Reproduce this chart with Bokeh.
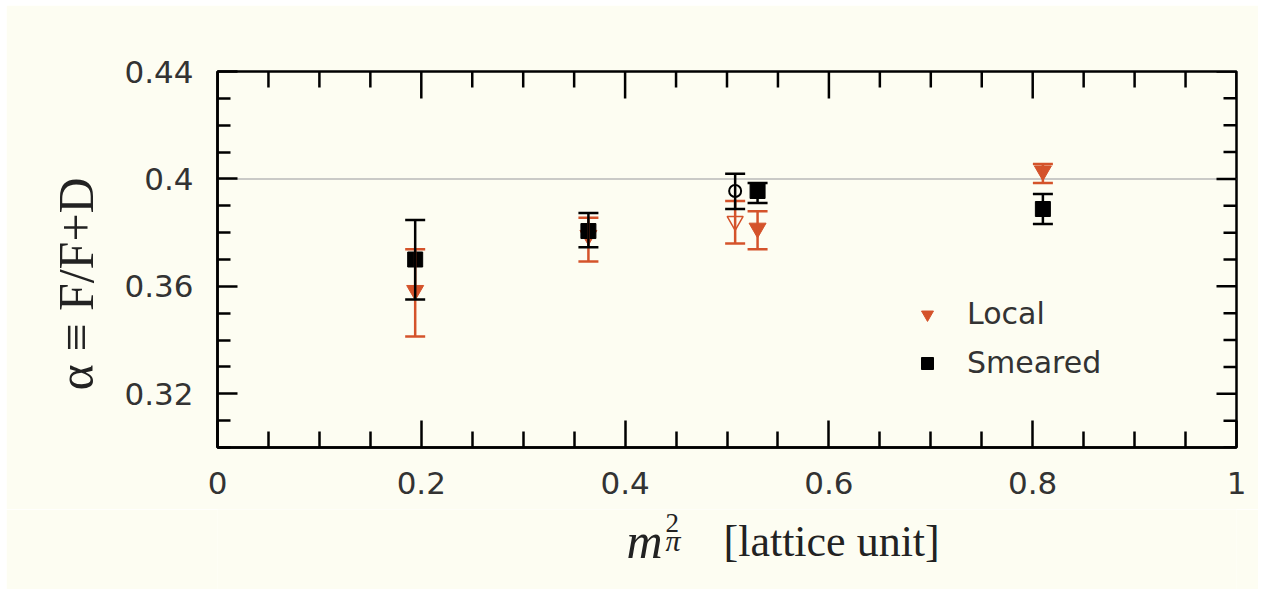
import math
from bokeh.plotting import figure
from bokeh.layouts import column
from bokeh.models import (ColumnDataSource, Whisker, TeeHead, Span, Label, Legend, LegendItem,
                          FixedTicker, CustomJSTickFormatter, Range1d, Title)
from bokeh.embed import file_html
from bokeh.resources import INLINE

# ---------------- data ----------------
local_x = [0.194, 0.364, 0.530, 0.810]
local_y = [0.3585, 0.3790, 0.3817, 0.4030]
local_lo = [0.3413, 0.3693, 0.3738, 0.3985]
local_hi = [0.3738, 0.3855, 0.3880, 0.4056]

smeared_x = [0.194, 0.364, 0.530, 0.810]
smeared_y = [0.3700, 0.3806, 0.3955, 0.3888]
smeared_lo = [0.3551, 0.3746, 0.3910, 0.3832]
smeared_hi = [0.3847, 0.3873, 0.3985, 0.3944]

open_local_x = [0.508]
open_local_y = [0.3843]
open_local_lo = [0.3760]
open_local_hi = [0.3918]

open_smeared_x = [0.508]
open_smeared_y = [0.3955]
open_smeared_lo = [0.3888]
open_smeared_hi = [0.4019]

x_major = [0, 0.2, 0.4, 0.6, 0.8, 1.0]
x_minor = [0.05, 0.1, 0.15, 0.25, 0.3, 0.35, 0.45, 0.5, 0.55, 0.65, 0.7, 0.75, 0.85, 0.9, 0.95]
y_major = [0.32, 0.36, 0.40, 0.44]
y_minor = [0.30, 0.31, 0.33, 0.34, 0.35, 0.37, 0.38, 0.39, 0.41, 0.42, 0.43]
ref_line = 0.4

y_title = "α ≡ F/F+D"
x_title_main = "m"
x_title_sub = "π"
x_title_sup = "2"
x_title_unit = "[lattice unit]"

X0, X1 = 0.0, 1.0
Y0, Y1 = 0.30, 0.44
FW, FH = 1019, 376   # frame size in px

RED = "#d4532b"
CREAM = "#fdfdf2"
TICKFONT = "DejaVu Sans"
SERIF = "Liberation Serif"

W = 1252
MAIN_H = 504
BOT_H = 80
BL, BR = 211, 22     # left / right borders (shared by both stacked figures)

p = figure(width=W, height=MAIN_H, output_backend="svg", toolbar_location=None,
           x_range=Range1d(X0, X1), y_range=Range1d(Y0, Y1),
           min_border_left=BL, min_border_top=66, min_border_right=BR,
           min_border_bottom=MAIN_H - 66 - FH,
           background_fill_color=CREAM, border_fill_color=CREAM)
p.grid.visible = False
p.outline_line_color = "black"
p.outline_line_width = 2.5

fmt = CustomJSTickFormatter(code="return tick.toFixed(2).replace(/0+$/,'').replace(/\\.$/,'');")

def style_axis(ax, tin, tmin):
    ax.axis_line_color = "black"
    ax.axis_line_width = 2.5
    ax.major_tick_line_width = 2.5
    ax.minor_tick_line_width = 2.5
    ax.major_tick_in = tin
    ax.major_tick_out = 0
    ax.minor_tick_in = tmin
    ax.minor_tick_out = 0
    ax.major_label_text_font = TICKFONT
    ax.major_label_text_font_size = "31px"
    ax.major_label_text_color = "#333333"
    ax.major_label_standoff = 24
    ax.formatter = fmt

xa = p.xaxis[0]
xa.ticker = FixedTicker(ticks=x_major, minor_ticks=x_minor)
style_axis(xa, 27, 16)
ya = p.yaxis[0]
ya.ticker = FixedTicker(ticks=y_major, minor_ticks=y_minor)
style_axis(ya, 20, 13)

# y-axis title as a side-panel title on the left (starts 57 px above the frame bottom)
p.add_layout(Title(text=y_title, align="left", offset=57, standoff=36,
                   text_font=SERIF, text_font_style="normal", text_font_size="50px",
                   text_color="#222222"), "left")

# mirrored inward ticks on top and right edges (lengths converted from px to data units)
xmaj_len = 27 / FH * (Y1 - Y0)
xmin_len = 16 / FH * (Y1 - Y0)
ymaj_len = 20 / FW * (X1 - X0)
ymin_len = 13 / FW * (X1 - X0)
p.segment(x0=x_major, y0=[Y1] * len(x_major), x1=x_major, y1=[Y1 - xmaj_len] * len(x_major),
          line_color="black", line_width=2.5)
p.segment(x0=x_minor, y0=[Y1] * len(x_minor), x1=x_minor, y1=[Y1 - xmin_len] * len(x_minor),
          line_color="black", line_width=2.5)
p.segment(x0=[X1] * len(y_major), y0=y_major, x1=[X1 - ymaj_len] * len(y_major), y1=y_major,
          line_color="black", line_width=2.5)
p.segment(x0=[X1] * len(y_minor), y0=y_minor, x1=[X1 - ymin_len] * len(y_minor), y1=y_minor,
          line_color="black", line_width=2.5)

p.add_layout(Span(location=ref_line, dimension="width", line_color="#b8b8b8",
                  line_width=1.5, level="underlay"))

def whisk(xs, lo, hi, color):
    src = ColumnDataSource(dict(x=xs, lo=lo, hi=hi))
    w = Whisker(source=src, base="x", lower="lo", upper="hi", dimension="height",
                line_color=color, line_width=2.5, level="glyph",
                upper_head=TeeHead(size=20, line_color=color, line_width=2.5),
                lower_head=TeeHead(size=20, line_color=color, line_width=2.5))
    p.add_layout(w)

whisk(open_local_x, open_local_lo, open_local_hi, RED)
whisk(local_x, local_lo, local_hi, RED)
whisk(open_smeared_x, open_smeared_lo, open_smeared_hi, "black")
whisk(smeared_x, smeared_lo, smeared_hi, "black")

p.scatter(open_local_x, open_local_y, marker="inverted_triangle", size=16,
          fill_color=CREAM, line_color=RED, line_width=1.5)
r_local = p.scatter(local_x, local_y, marker="inverted_triangle", size=17,
                    fill_color=RED, line_color=RED)
p.scatter(open_smeared_x, open_smeared_y, marker="circle", size=12,
          fill_color=CREAM, line_color="black", line_width=2)
r_smeared = p.scatter(smeared_x, smeared_y, marker="square", size=15,
                      fill_color="black", line_color="black")

legend = Legend(items=[LegendItem(label="Local", renderers=[r_local]),
                       LegendItem(label="Smeared", renderers=[r_smeared])],
                location=(695, 67), glyph_width=30, glyph_height=30, label_height=30,
                spacing=14, label_standoff=25, padding=0, margin=0,
                border_line_color=None, background_fill_alpha=0,
                label_text_font=TICKFONT, label_text_font_size="30px",
                label_text_color="#333333", label_text_baseline="middle")
p.add_layout(legend)

# bottom strip carrying the composite x-axis title; its ranges are page pixels
PAGE_TOP = 5 + MAIN_H
PAGE_BOT = PAGE_TOP + BOT_H
bottom = figure(width=W, height=BOT_H, output_backend="svg", toolbar_location=None,
                x_range=Range1d(217, 217 + FW), y_range=Range1d(PAGE_BOT, PAGE_TOP),
                x_axis_location=None, y_axis_location=None,
                min_border_left=BL, min_border_right=BR, min_border_top=0, min_border_bottom=0,
                background_fill_color=CREAM, border_fill_color=CREAM)
bottom.grid.visible = False
bottom.outline_line_color = None

def blab(x, y, text, size, style="normal"):
    bottom.add_layout(Label(x=x, y=y, text=text, text_align="left",
                            text_baseline="alphabetic", text_font=SERIF,
                            text_font_style=style, text_font_size=size,
                            text_color="#222222"))

blab(626, 540, x_title_main, "50px", style="italic")
blab(665, 540, x_title_sub, "30px", style="italic")
blab(665, 522, x_title_sup, "27px")
blab(723, 541, x_title_unit, "44px")

layout = column(p, bottom, spacing=0)
layout.margin = (5, 10, 0, 6)

html = file_html(layout, INLINE)
html = html.replace("<body>", '<body style="margin:0;background:#e4e4dd">', 1)
open("out.html", "w").write(html)
